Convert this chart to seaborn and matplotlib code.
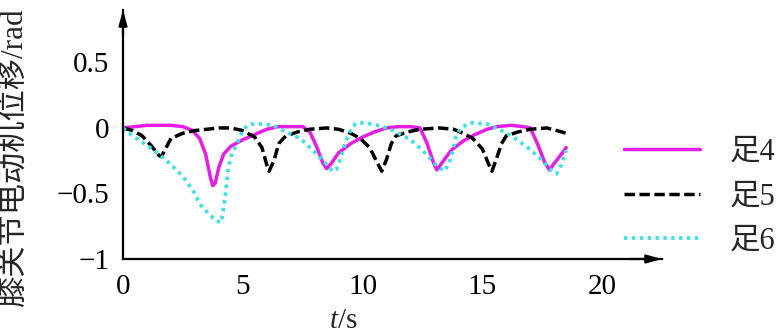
import numpy as np
import pandas as pd
import matplotlib
matplotlib.use("Agg")
import matplotlib.pyplot as plt
import seaborn as sns

# Knee-joint motor displacement (rad) of feet 4, 5 and 6 over time (s)
t_foot4 = [0.0, 0.5, 1.0, 1.5, 2.0, 2.5, 2.9, 3.2, 3.45, 3.65, 3.75, 3.85, 4.0, 4.2,
           4.5, 5.0, 5.5, 6.0, 6.5, 7.0, 7.5, 7.8, 8.1, 8.35, 8.5, 8.7, 9.0, 9.5,
           10.0, 10.5, 11.0, 11.5, 12.0, 12.4, 12.7, 12.95, 13.1, 13.3, 13.7, 14.2,
           14.7, 15.2, 15.6, 16.2, 16.7, 17.0, 17.3, 17.6, 17.8, 18.0, 18.3, 18.5]
foot4 = [0.00, 0.01, 0.02, 0.02, 0.02, 0.01, -0.02, -0.08, -0.20, -0.38, -0.44, -0.42,
         -0.30, -0.20, -0.14, -0.09, -0.05, -0.01, 0.01, 0.01, 0.01, -0.03, -0.15,
         -0.27, -0.31, -0.27, -0.19, -0.12, -0.07, -0.03, 0.00, 0.01, 0.01, 0.00,
         -0.12, -0.26, -0.32, -0.27, -0.17, -0.10, -0.05, -0.01, 0.01, 0.02, 0.01,
         0.00, -0.12, -0.26, -0.32, -0.27, -0.20, -0.15]

t_foot5 = [0.0, 0.4, 0.8, 1.2, 1.5, 1.6, 1.8, 2.0, 2.5, 3.0, 3.5, 4.0, 4.5, 5.0, 5.5,
           5.8, 6.0, 6.1, 6.3, 6.5, 6.8, 7.3, 7.8, 8.5, 9.0, 9.5, 9.9, 10.3, 10.6,
           10.8, 11.0, 11.2, 11.4, 11.9, 12.4, 13.2, 13.8, 14.2, 14.6, 15.0, 15.25,
           15.4, 15.6, 15.8, 16.0, 16.5, 17.0, 17.7, 18.1, 18.5]
foot5 = [0.00, -0.02, -0.06, -0.14, -0.21, -0.22, -0.15, -0.08, -0.04, -0.02, -0.01,
         0.00, 0.00, -0.02, -0.07, -0.15, -0.28, -0.33, -0.25, -0.12, -0.06, -0.03,
         -0.01, 0.00, -0.01, -0.04, -0.08, -0.15, -0.26, -0.33, -0.24, -0.12, -0.06,
         -0.03, -0.01, 0.00, -0.01, -0.04, -0.08, -0.16, -0.27, -0.33, -0.23, -0.12,
         -0.06, -0.03, -0.01, 0.00, -0.02, -0.04]

t_foot6 = [0.0, 0.4, 0.9, 1.5, 2.0, 2.5, 3.0, 3.2, 3.6, 3.9, 4.1, 4.25, 4.4, 4.5,
           4.75, 5.0, 5.2, 5.4, 5.8, 6.25, 6.8, 7.4, 8.1, 8.5, 8.75, 8.9, 9.1, 9.3,
           9.5, 9.7, 9.9, 10.4, 11.0, 11.4, 12.0, 12.5, 13.0, 13.4, 13.6, 13.75,
           13.9, 14.1, 14.5, 15.2, 15.7, 16.3, 16.9, 17.4, 17.8, 18.1, 18.3, 18.5]
foot6 = [0.00, -0.06, -0.12, -0.20, -0.28, -0.37, -0.50, -0.58, -0.66, -0.71, -0.72,
         -0.55, -0.30, -0.22, -0.12, -0.02, 0.02, 0.03, 0.03, 0.02, -0.03, -0.08,
         -0.20, -0.28, -0.33, -0.32, -0.22, -0.10, -0.02, 0.03, 0.04, 0.03, 0.00,
         -0.03, -0.09, -0.17, -0.27, -0.33, -0.28, -0.18, -0.07, 0.00, 0.04, 0.03,
         -0.01, -0.07, -0.15, -0.23, -0.31, -0.35, -0.28, -0.17]

series_names = ["足4", "足5", "足6"]
x_ticks = [0, 5, 10, 15, 20]
y_ticks = [-1, -0.5, 0, 0.5]
y_tick_labels = ["\u22121", "\u22120.5", "0", "0.5"]

sns.set_style("white")
plt.rcParams["font.family"] = ["Liberation Serif", "Noto Sans CJK SC"]
plt.rcParams["mathtext.fontset"] = "custom"
plt.rcParams["mathtext.it"] = "Liberation Serif:italic"
plt.rcParams["mathtext.rm"] = "Liberation Serif"

W, H = 781, 334
fig = plt.figure(figsize=(W / 100, H / 100), dpi=100)
left_px, right_px, bottom_px, top_px = 123, 662, 259, 10
ax = fig.add_axes([left_px / W, 1 - bottom_px / H,
                   (right_px - left_px) / W, (bottom_px - top_px) / H])

styles = [
    dict(color="#e41ee4", linestyle="-", linewidth=2.5),
    dict(color="black", linestyle=(0, (3.0, 1.3)), linewidth=2.5),
    dict(color="#3ee0e6", linestyle=(0, (0.9, 1.2)), linewidth=2.7),
]
data = [(t_foot4, foot4), (t_foot5, foot5), (t_foot6, foot6)]
handles = []
for (tt, vv), name, st in zip(data, series_names, styles):
    df = pd.DataFrame({"t": tt, "v": vv})
    sns.lineplot(data=df, x="t", y="v", ax=ax, estimator=None, sort=False,
                 label=name, **st)
    handles.append(ax.lines[-1])

ax.set_xlim(0, 22.5)
ax.set_ylim(-1, 0.9)
ax.set_xticks(x_ticks)
ax.set_xticklabels([str(v) for v in x_ticks])
ax.set_yticks(y_ticks)
ax.set_yticklabels(y_tick_labels)
ax.tick_params(direction="in", length=5, width=1.5, labelsize=21, colors="black")
ax.tick_params(axis="x", pad=11)
ax.tick_params(axis="y", pad=10)
for s in ["top", "right"]:
    ax.spines[s].set_visible(False)
for s in ["left", "bottom"]:
    ax.spines[s].set_linewidth(1.6)
    ax.spines[s].set_color("black")
ax.set_xlabel("")
ax.set_ylabel("")
ax.get_legend().remove()

# Arrowheads on both axes
ax.annotate("", xy=(1.0, 0), xytext=(0.94, 0), xycoords="axes fraction",
            arrowprops=dict(arrowstyle="-|>,head_length=0.9,head_width=0.25",
                            color="black", lw=1.6, shrinkA=0, shrinkB=0))
ax.annotate("", xy=(0, 1.0), xytext=(0, 0.9), xycoords="axes fraction",
            arrowprops=dict(arrowstyle="-|>,head_length=0.9,head_width=0.25",
                            color="black", lw=1.6, shrinkA=0, shrinkB=0))

fig.text(15 / W, 1 - 158 / H, "膝关节电动机位移/rad", rotation=90,
         ha="center", va="center", fontsize=22.5)
fig.text(343 / W, 1 - 321 / H, "$t$/s", ha="center", va="center", fontsize=21)

fig.legend(handles=handles, labels=series_names, loc="upper left",
           bbox_to_anchor=(624 / W, 1 - 138 / H), frameon=False, fontsize=22,
           handlelength=2.5, handletextpad=0.95, labelspacing=0.5,
           borderpad=0, borderaxespad=0)

fig.savefig("out.png", dpi=100)
